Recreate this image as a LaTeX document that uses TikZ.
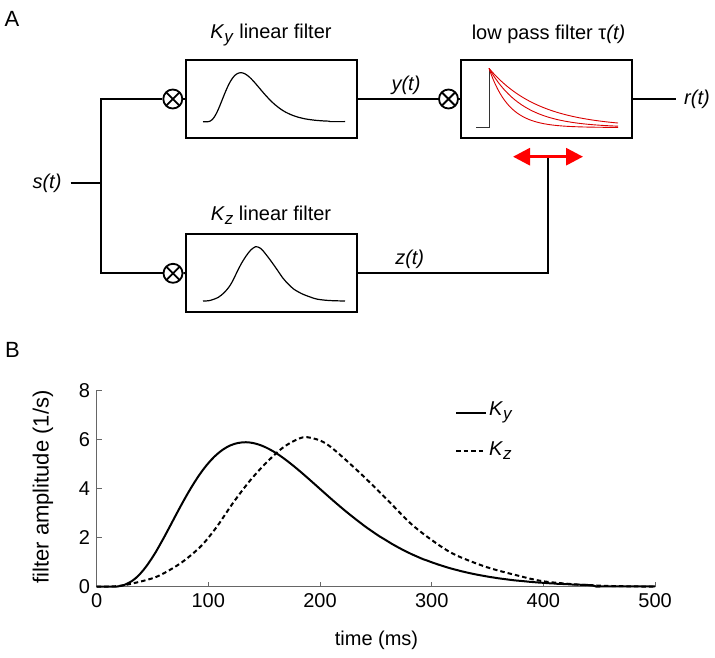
\documentclass[tikz,border=0pt]{standalone}
\usepackage{fontspec}
\setmainfont{Liberation Sans}
\usetikzlibrary{arrows.meta}

\newcommand{\Ksub}[1]{\textit{K}\raisebox{-4pt}{\fontsize{17}{17}\selectfont\textit{#1}}}
% filter kernels, t in ms
\newcommand{\Kycurve}[1]{\draw[#1] (0,0) -- plot[domain=10.5:500, samples=140]
  (\x,{5.88*((\x-10)/123)^3.55*exp(3.55*(1-(\x-10)/123))});}
\newcommand{\Kzcurve}[1]{\draw[#1] plot[smooth] coordinates {(0,0) (12,0.01) (20,0.03) (33,0.14) (54,0.41) (75,0.95) (93,1.63) (107,2.40) (122,3.40) (137,4.30) (152,5.05) (168,5.70) (185,6.08) (200,5.95) (212,5.60) (236,4.62) (260,3.55) (281,2.58) (300,1.90) (320,1.32) (349,0.80) (379,0.43) (400,0.22) (430,0.09) (460,0.03) (500,0)};}

\begin{document}
\begin{tikzpicture}[x=1pt, y=-1pt,
  font=\fontsize{20}{24}\selectfont,
  box/.style={rectangle, draw, line width=2pt,
              minimum width=171pt, minimum height=78pt, inner sep=0pt},
  mult/.style={circle, draw, line width=1.8pt, minimum size=19pt, inner sep=0pt,
               path picture={\draw[line width=1.8pt]
                 (path picture bounding box.north west) -- (path picture bounding box.south east)
                 (path picture bounding box.north east) -- (path picture bounding box.south west);}},
  signal/.style={line width=2pt},
  sig/.style={font=\fontsize{20}{24}\selectfont\itshape},
  panel/.style={font=\fontsize{22}{26}\selectfont},
  axis/.style={line width=1pt, black!60},
  kernel/.style={line width=1.2pt},
  decay/.style={line width=0.9pt, red!85!black},
  tauarrow/.style={{Triangle[length=17pt,width=17pt]}-{Triangle[length=17pt,width=17pt]},
                   line width=3pt, red}
]
\useasboundingbox (0,0) rectangle (715,658);

% panel A
\node[panel] (labA) at (12,19) {A};
\node[box] (Ky) at (271.4,99)    {};
\node[box] (Kz) at (271.4,272.8) {};
\node[box] (LP) at (546.5,99)    {};
\node[anchor=base] (Kylab) at (271,39)    {\Ksub{y} linear filter};
\node[anchor=base] (Kzlab) at (271,220)   {\Ksub{z} linear filter};
\node[anchor=base] (LPlab) at (548.5,39.5) {low pass filter τ\textit{(t)}};

\node[mult] (mY)  at (172.8,99)  {};
\node[mult] (mZ)  at (173,273.3) {};
\node[mult] (mLP) at (448.5,99)  {};
\node[sig, inner sep=9pt] (st) at (47,183.3) {s(t)};
\node[sig, inner sep=8pt] (rt) at (697,99)   {r(t)};
\coordinate (split)  at (101,183.3);
\coordinate (tauL)   at (513,156.7);
\coordinate (tauR)   at (583,156.7);
\coordinate (tauctl) at (548.3,156.7);

\draw[signal] (st) -- (split);
\draw[signal] (split) |- (mY);
\draw[signal] (split) |- (mZ);
\draw[signal] (mY) -- (Ky);
\draw[signal] (mZ) -- (Kz);
\draw[signal] (Ky) -- node[sig, above, pos=0.6] {y(t)} (mLP);
\draw[signal] (mLP) -- (LP);
\draw[signal] (LP) -- (rt);
\draw[signal] (Kz) -| node[sig, above, pos=0.136] {z(t)} (tauctl);
\draw[tauarrow] (tauL) -- (tauR);

% kernels inside the boxes
\begin{scope}[shift={(203,121.7)}, x=0.284pt, y=8.33pt]
  \Kycurve{kernel}
\end{scope}
\begin{scope}[shift={(203,301)}, x=0.284pt, y=8.93pt]
  \Kzcurve{kernel}
\end{scope}
\draw[line width=1pt, black!80] (476,127.7) -- (489,127.7) -- (489,68.3);
\foreach \L in {20,34,50}
  \draw[decay] plot[domain=0:129, samples=60] ({489+\x},{127.5-59.2*exp(-\x/\L)});

% panel B
\node[panel] (labB) at (12.5,350) {B};
\begin{scope}[shift={(96.6,586.7)}, x=1.117pt, y=24.57pt]
  \draw[axis] (0,8) -- (0,0) -- (500,0);
  \foreach \v in {0,2,...,8} {
    \draw[axis] (0,\v) -- (4.5,\v);
    \node[left, inner sep=6.5pt] (yt\v) at (0,\v) {\v};
  }
  \foreach \t in {0,100,...,500} {
    \draw[axis] (\t,0) -- (\t,0.2);
    \node[below, inner sep=6.5pt] (xt\t) at (\t,0) {\t};
  }
  \Kycurve{line width=2pt}
  \Kzcurve{line width=2pt, dash pattern=on 4.5pt off 3pt}
\end{scope}
\node (xlab) at (376.5,640) {time (ms)};
\node[rotate=90, font=\fontsize{22}{26}\selectfont] (ylab) at (43,487) {filter amplitude (1/s)};

% legend
\coordinate (legYa) at (456,412.7);
\coordinate (legYb) at (486,412.7);
\coordinate (legZa) at (456,451);
\coordinate (legZb) at (486,451);
\draw[line width=2pt] (legYa) -- (legYb) node[right, inner sep=2pt] (legY) {\Ksub{y}};
\draw[line width=2pt, dash pattern=on 4.5pt off 3pt] (legZa) -- (legZb)
  node[right, inner sep=2pt] (legZ) {\Ksub{z}};
\end{tikzpicture}
\end{document}
